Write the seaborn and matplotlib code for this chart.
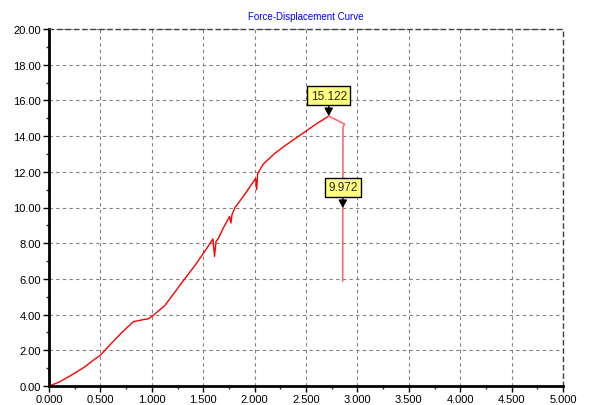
import matplotlib
matplotlib.use("Agg")
import matplotlib.pyplot as plt
import seaborn as sns
import pandas as pd
from matplotlib.ticker import MultipleLocator, FormatStrFormatter

# Data (displacement, force)
displacement = [0.000, 0.100, 0.236, 0.350, 0.447, 0.495, 0.576, 0.700, 0.820, 0.900,
                0.966, 1.010, 1.126, 1.300, 1.420, 1.530, 1.595, 1.610, 1.625, 1.645,
                1.700, 1.757, 1.770, 1.780, 1.810, 1.900, 2.010, 2.020, 2.030, 2.085,
                2.200, 2.300, 2.400, 2.500, 2.600, 2.721]
force = [0.00, 0.22, 0.67, 1.08, 1.51, 1.70, 2.20, 2.95, 3.60, 3.70,
         3.76, 3.94, 4.50, 5.85, 6.75, 7.67, 8.24, 7.26, 8.10, 8.24,
         8.90, 9.50, 9.13, 9.60, 10.00, 10.70, 11.63, 11.00, 11.90, 12.44,
         13.05, 13.48, 13.88, 14.28, 14.68, 15.122]
fail_disp = [2.721, 2.873, 2.860, 2.858, 2.857]
fail_force = [15.122, 14.68, 14.50, 9.972, 5.87]

ann_labels = ["15.122", "9.972"]
ann_x = [2.721, 2.858]
ann_y = [15.122, 9.972]

df = pd.DataFrame({"Displacement": displacement, "Force": force})
df2 = pd.DataFrame({"Displacement": fail_disp, "Force": fail_force})

sns.set_style("white")
plt.rcParams["font.family"] = ["Liberation Sans", "DejaVu Sans"]

fig = plt.figure(figsize=(5.89, 4.06), dpi=100)
ax = fig.add_axes([49/589, 19/406, 514/589, 357/406])

sns.lineplot(data=df, x="Displacement", y="Force", sort=False, color="#ff0000",
             linewidth=1.0, ax=ax, estimator=None)
sns.lineplot(data=df2, x="Displacement", y="Force", sort=False, color="#ff6a6a",
             linewidth=1.2, ax=ax, estimator=None)

ax.set_xlim(0, 5)
ax.set_ylim(0, 20)
ax.xaxis.set_major_locator(MultipleLocator(0.5))
ax.xaxis.set_minor_locator(MultipleLocator(0.25))
ax.yaxis.set_major_locator(MultipleLocator(2))
ax.yaxis.set_minor_locator(MultipleLocator(1))
ax.xaxis.set_major_formatter(FormatStrFormatter("%.3f"))
ax.yaxis.set_major_formatter(FormatStrFormatter("%.2f"))
ax.tick_params(axis="both", which="major", direction="out", length=4, width=1,
               labelsize=8, colors="black", pad=2)
ax.tick_params(axis="both", which="minor", direction="out", length=2, width=1)
ax.tick_params(axis="both", which="both", bottom=True, left=True)
ax.set_xlabel("")
ax.set_ylabel("")

ax.grid(True, which="major", linestyle=(0, (3, 3)), color="#808080", linewidth=0.8)
for s in ["left", "bottom"]:
    ax.spines[s].set_color("black")
    ax.spines[s].set_linewidth(2)
for s in ["top", "right"]:
    ax.spines[s].set_color("#404040")
    ax.spines[s].set_linewidth(1)
    ax.spines[s].set_linestyle((0, (3, 3)))

# Annotations
for lab, x, y in zip(ann_labels, ann_x, ann_y):
    ax.annotate(lab, xy=(x, y), xytext=(x, y + 1.15),
                ha="center", va="center", fontsize=8.5,
                bbox=dict(boxstyle="square,pad=0.3", fc="#ffff80", ec="black", lw=1),
                arrowprops=dict(arrowstyle="-|>,head_length=0.55,head_width=0.3",
                                color="black", lw=1, shrinkA=0, shrinkB=0))

fig.text((49 + 563) / 2 / 589, 1 - 17.5/406, "Force-Displacement Curve",
         ha="center", va="center", color="#0000ff", fontsize=7)

fig.savefig("out.png", dpi=100)
